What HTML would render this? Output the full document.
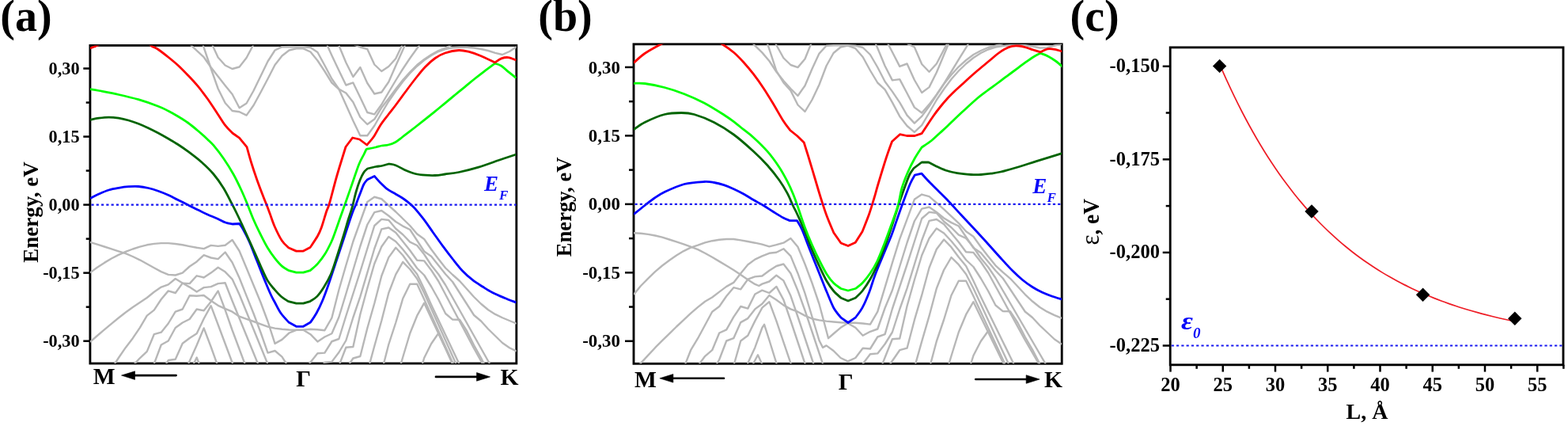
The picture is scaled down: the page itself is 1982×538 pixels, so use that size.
<!DOCTYPE html>
<html lang="en">
<head>
<meta charset="utf-8">
<title>Band structure figure</title>
<style>
html,body{margin:0;padding:0;background:#fff;}
body{width:1982px;height:538px;overflow:hidden;}
svg{display:block;}
text{font-family:"Liberation Serif", "DejaVu Serif", serif;font-weight:bold;fill:#000;}
.pl{font-size:56px;}
.ax{font-size:27px;}
.kl{font-size:29.5px;}
.bl{fill:#0808f8;font-style:italic;}
</style>
</head>
<body>
<svg width="1982" height="538" viewBox="0 0 1982 538">
<rect x="0" y="0" width="1982" height="538" fill="#fff"/>
<g id="panel-a">
<clipPath id="clip-a"><rect x="113.9" y="57.4" width="538.9" height="401.6"/></clipPath>
<rect x="113.9" y="57.4" width="538.9" height="401.6" fill="#fff" stroke="#000" stroke-width="2.85"/>
<line x1="105.3" x2="113.9" y1="86.5" y2="86.5" stroke="#000" stroke-width="2.5"/>
<line x1="105.3" x2="113.9" y1="172.55" y2="172.55" stroke="#000" stroke-width="2.5"/>
<line x1="105.3" x2="113.9" y1="258.6" y2="258.6" stroke="#000" stroke-width="2.5"/>
<line x1="105.3" x2="113.9" y1="344.65" y2="344.65" stroke="#000" stroke-width="2.5"/>
<line x1="105.3" x2="113.9" y1="430.7" y2="430.7" stroke="#000" stroke-width="2.5"/>
<line x1="108.7" x2="113.9" y1="129.53" y2="129.53" stroke="#000" stroke-width="2.5"/>
<line x1="108.7" x2="113.9" y1="215.58" y2="215.58" stroke="#000" stroke-width="2.5"/>
<line x1="108.7" x2="113.9" y1="301.62" y2="301.62" stroke="#000" stroke-width="2.5"/>
<line x1="108.7" x2="113.9" y1="387.68" y2="387.68" stroke="#000" stroke-width="2.5"/>
<g clip-path="url(#clip-a)">
<path d="M266.64 53 L275.63 72.5 L284.62 82.5 L293.6 87 L302.59 84.5 L311.57 73 L320.55 56" fill="none" stroke="#b7b7b7" stroke-width="2.4" stroke-linejoin="round" />
<path d="M239.69 55.4 L248.67 63.8 L257.66 72.2 L266.64 85 L275.63 96.5 L284.62 108 L293.6 119 L302.59 136.25 L311.57 130.5 L320.55 114.5 L329.54 96 L338.52 77.5 L347.51 63.5 L356.5 59.2 L365.48 59 L374.47 59.3 L383.45 59.3 L392.43 60 L401.42 66 L410.4 82.5 L419.39 99.5 L428.38 112.5 L437.36 117.5 L446.35 129 L455.33 148 L464.31 157 L473.3 150.6 L482.28 136 L491.27 124.5 L500.25 112.5 L509.24 101 L518.23 91 L527.21 82 L536.19 75 L545.18 69 L554.16 64 L563.15 60.5 L572.13 56" fill="none" stroke="#b7b7b7" stroke-width="2.4" stroke-linejoin="round" />
<path d="M248.67 35 L257.66 60 L266.64 86.5 L275.63 112 L284.62 130 L293.6 140 L302.59 141.25 L311.57 145.6 L320.55 133 L329.54 116.5 L338.52 99.5 L347.51 82 L356.5 70.5 L365.48 63.5 L374.47 61.4 L383.45 61.4 L392.43 65.5 L401.42 76.5 L410.4 90 L419.39 104.5 L428.38 112.5 L437.36 132.5 L446.35 152.5 L455.33 171.25 L464.31 171.25 L473.3 158.75 L482.28 143 L491.27 128 L500.25 115 L509.24 103 L518.23 92.5 L527.21 83.5 L536.19 76 L545.18 70 L554.16 65 L563.15 62 L572.13 60.3 L581.12 59.7 L590.11 59.8 L599.09 60.5 L608.07 62 L617.06 64 L626.04 66.8 L635.03 69 L644.01 65 L653 59" fill="none" stroke="#b7b7b7" stroke-width="2.4" stroke-linejoin="round" />
<path d="M410.4 50 L419.39 70 L428.38 89 L437.36 107.5 L446.35 104.4 L455.33 123 L464.31 142 L473.3 144.4 L482.28 132 L491.27 116.5 L500.25 101.5 L509.24 87 L518.23 73.5 L527.21 61 L536.19 49" fill="none" stroke="#b7b7b7" stroke-width="2.4" stroke-linejoin="round" />
<path d="M428.38 57.5 L437.36 79 L446.35 97 L455.33 85 L464.31 105 L473.3 118.5 L482.28 116.5 L491.27 103.5 L500.25 83 L509.24 63 L518.23 43" fill="none" stroke="#b7b7b7" stroke-width="2.4" stroke-linejoin="round" />
<path d="M446.35 56 L455.33 59.5 L464.31 62 L473.3 81.5 L482.28 90 L491.27 84 L500.25 74 L509.24 55" fill="none" stroke="#b7b7b7" stroke-width="2.4" stroke-linejoin="round" />
<path d="M113.9 305.8 L122.89 308.6 L131.87 311.5 L140.86 314.4 L149.84 317.3 L158.82 320.2 L167.81 324 L176.8 328.3 L185.78 333.3 L194.76 338.3 L203.75 343.1 L212.74 346.9 L221.72 347.5 L230.7 344.6 L239.69 336.5 L248.67 330.4 L257.66 322.2 L266.64 325.5 L275.63 327.1 L284.62 318.5 L293.6 331.5 L302.59 351 L311.57 373.6 L320.55 396 L329.54 420 L338.52 445.6 L347.51 443 L356.5 450.6 L365.48 465" fill="none" stroke="#b7b7b7" stroke-width="2.4" stroke-linejoin="round" />
<path d="M113.9 344.4 L122.89 337.8 L131.87 331.9 L140.86 326.5 L149.84 321.9 L158.82 317.9 L167.81 314.5 L176.8 311.6 L185.78 309.3 L194.76 307.9 L203.75 307.1 L212.74 307.1 L221.72 308 L230.7 309.3 L239.69 311.1 L248.67 312.8 L257.66 314.1 L266.64 309.9 L275.63 310.9 L284.62 309.7 L293.6 303 L302.59 317 L311.57 338.5 L320.55 360.2 L329.54 382 L338.52 406 L347.51 433.9 L356.5 428.9 L365.48 420.5 L374.47 416.8 L383.45 416.8 L392.43 422.2 L401.42 431.4 L410.4 425.5 L419.39 421.25 L428.38 400.5 L437.36 371 L446.35 341 L455.33 311 L464.31 283.75 L473.3 268.1 L482.28 266 L491.27 272.5 L500.25 280 L509.24 285.6 L518.23 290 L527.21 303.75 L536.19 317.5 L545.18 323.75 L554.16 335 L563.15 346.25 L572.13 356 L581.12 370 L590.11 384 L599.09 398 L608.07 405.5 L617.06 415.5 L626.04 424.25 L635.03 433 L644.01 439.25 L653 443.6" fill="none" stroke="#b7b7b7" stroke-width="2.4" stroke-linejoin="round" />
<path d="M113.9 431.8 L122.89 424 L131.87 416.3 L140.86 408.8 L149.84 401.5 L158.82 394.5 L167.81 388 L176.8 382 L185.78 376 L194.76 368.8 L203.75 362.6 L212.74 359.4 L221.72 352 L230.7 357.5 L239.69 362.6 L248.67 368.5 L257.66 363.1 L266.64 362.1 L275.63 358.1 L284.62 357.2 L293.6 380 L302.59 402 L311.57 424 L320.55 446 L329.54 468" fill="none" stroke="#b7b7b7" stroke-width="2.4" stroke-linejoin="round" />
<path d="M140.86 466 L149.84 452 L158.82 438.9 L167.81 427.2 L176.8 413.8 L185.78 398.6 L194.76 391.6 L203.75 378 L212.74 367.4 L221.72 370 L230.7 357.6 L239.69 358.1 L248.67 348.3 L257.66 350.5 L266.64 344.6 L275.63 337.7 L284.62 343.3 L293.6 352.6 L302.59 372 L311.57 394 L320.55 416 L329.54 438 L338.52 460" fill="none" stroke="#b7b7b7" stroke-width="2.4" stroke-linejoin="round" />
<path d="M167.81 462 L176.8 452.3 L185.78 443.9 L194.76 422.2 L203.75 419.7 L212.74 408.5 L221.72 393.7 L230.7 390.5 L239.69 373.2 L248.67 373.8 L257.66 373 L266.64 379.7 L275.63 385.8 L284.62 389.8 L293.6 393.7 L302.59 399.7 L311.57 402.9 L320.55 406 L329.54 409.3 L338.52 412.7 L347.51 414.6 L356.5 415.8 L365.48 416.5 L374.47 416.8 L383.45 416.5 L392.43 415.8 L401.42 416.3 L410.4 417.2 L419.39 401.5 L428.38 366 L437.36 335 L446.35 305 L455.33 280 L464.31 255 L473.3 248.75 L482.28 251.25 L491.27 259.4 L500.25 267.5 L509.24 276.25 L518.23 285 L527.21 295.5 L536.19 302 L545.18 315 L554.16 327 L563.15 338.5 L572.13 347 L581.12 355 L590.11 365 L599.09 375 L608.07 383.75 L617.06 391.25 L626.04 396.9 L635.03 401.25 L644.01 405 L653 408.75" fill="none" stroke="#b7b7b7" stroke-width="2.4" stroke-linejoin="round" />
<path d="M194.76 459.5 L203.75 435.5 L212.74 430.5 L221.72 414 L230.7 407.5 L239.69 403 L248.67 390.5 L257.66 392.3 L266.64 381 L275.63 367.4 L284.62 391.3 L293.6 417 L302.59 441 L311.57 465" fill="none" stroke="#b7b7b7" stroke-width="2.4" stroke-linejoin="round" />
<path d="M203.75 470 L212.74 455 L221.72 453.7 L230.7 433.7 L239.69 427 L248.67 421.2 L257.66 402.5 L266.64 386.2 L275.63 410 L284.62 434 L293.6 458 L302.59 482" fill="none" stroke="#b7b7b7" stroke-width="2.4" stroke-linejoin="round" />
<path d="M230.7 476 L239.69 456 L248.67 436 L257.66 414.4 L266.64 438 L275.63 463" fill="none" stroke="#b7b7b7" stroke-width="2.4" stroke-linejoin="round" />
<path d="M239.69 470 L248.67 451.5 L257.66 475" fill="none" stroke="#b7b7b7" stroke-width="2.4" stroke-linejoin="round" />
<path d="M383.45 470 L392.43 457.5 L401.42 446.25 L410.4 445.6 L419.39 431.25 L428.38 428 L437.36 399 L446.35 371 L455.33 343 L464.31 314 L473.3 285 L482.28 276.9 L491.27 278 L500.25 288.75 L509.24 296.25 L518.23 305.6 L527.21 310 L536.19 321.25 L545.18 335 L554.16 346.25 L563.15 360 L572.13 376 L581.12 392 L590.11 408 L599.09 424 L608.07 440 L617.06 456 L626.04 472" fill="none" stroke="#b7b7b7" stroke-width="2.4" stroke-linejoin="round" />
<path d="M401.42 470 L410.4 457.8 L419.39 456.9 L428.38 445 L437.36 430 L446.35 401 L455.33 374.6 L464.31 344.4 L473.3 314 L482.28 289.4 L491.27 287.5 L500.25 293.75 L509.24 305 L518.23 316.25 L527.21 328.75 L536.19 329.4 L545.18 341.25 L554.16 355 L563.15 372 L572.13 389 L581.12 406 L590.11 423 L599.09 440 L608.07 456 L617.06 472" fill="none" stroke="#b7b7b7" stroke-width="2.4" stroke-linejoin="round" />
<path d="M428.38 462 L437.36 438.75 L446.35 438 L455.33 397 L464.31 364 L473.3 333 L482.28 311.5 L491.27 298.9 L500.25 305 L509.24 315 L518.23 326.25 L527.21 338.75 L536.19 347.5 L545.18 362 L554.16 378 L563.15 396 L572.13 403.6 L581.12 403.8 L590.11 418 L599.09 436 L608.07 452 L617.06 470" fill="none" stroke="#b7b7b7" stroke-width="2.4" stroke-linejoin="round" />
<path d="M437.36 466 L446.35 452.5 L455.33 450 L464.31 414.5 L473.3 383 L482.28 348.5 L491.27 325.1 L500.25 312.8 L509.24 322.5 L518.23 335 L527.21 346.25 L536.19 365 L545.18 385 L554.16 404 L563.15 423 L572.13 442 L581.12 461" fill="none" stroke="#b7b7b7" stroke-width="2.4" stroke-linejoin="round" />
<path d="M464.31 470 L473.3 437 L482.28 405 L491.27 370 L500.25 346.6 L509.24 330.8 L518.23 340 L527.21 352 L536.19 370 L545.18 390 L554.16 410 L563.15 430 L572.13 450 L581.12 470" fill="none" stroke="#b7b7b7" stroke-width="2.4" stroke-linejoin="round" />
<path d="M482.28 470 L491.27 435 L500.25 407.5 L509.24 377 L518.23 358.7 L527.21 358.7 L536.19 378 L545.18 398 L554.16 418 L563.15 438 L572.13 458 L581.12 478" fill="none" stroke="#b7b7b7" stroke-width="2.4" stroke-linejoin="round" />
<path d="M500.25 482 L509.24 451 L518.23 421 L527.21 398.7 L536.19 382.7 L545.18 402 L554.16 421 L563.15 440 L572.13 459 L581.12 478" fill="none" stroke="#b7b7b7" stroke-width="2.4" stroke-linejoin="round" />
<path d="M527.21 482 L536.19 452 L545.18 434 L554.16 421 L563.15 440 L572.13 460" fill="none" stroke="#b7b7b7" stroke-width="2.4" stroke-linejoin="round" />
<path d="M114 250.5 C115.83 249.58 121.08 246.75 125 245 C128.92 243.25 133.33 241.28 137.5 240 C141.67 238.72 145.83 238.02 150 237.3 C154.17 236.58 158.33 236 162.5 235.7 C166.67 235.4 170.83 235.2 175 235.5 C179.17 235.8 183.33 236.55 187.5 237.5 C191.67 238.45 195.83 239.75 200 241.2 C204.17 242.65 208.33 244.32 212.5 246.2 C216.67 248.08 220.83 250.42 225 252.5 C229.17 254.58 233.33 256.62 237.5 258.7 C241.67 260.78 245.83 262.95 250 265 C254.17 267.05 258.33 269.13 262.5 271 C266.67 272.87 271.25 274.53 275 276.2 C278.75 277.87 281.88 279.87 285 281 C288.12 282.13 292.29 282.67 293.75 283 L302.5 282.5 C303.33 283.75 305.42 286.25 307.5 290 C309.58 293.75 312.08 298.33 315 305 C317.92 311.67 321.67 321.67 325 330 C328.33 338.33 332.08 347.92 335 355 C337.92 362.08 340.42 368 342.5 372.5 C344.58 377 345.42 378.17 347.5 382 C349.58 385.83 352.08 391.33 355 395.5 C357.92 399.67 363.33 405.08 365 407 L374.5 412.3 L383.4 412.3 L392.5 407 C393.75 405.08 397.5 400 400 395.5 C402.5 391 405 385.92 407.5 380 C410 374.08 412.08 368.33 415 360 C417.92 351.67 421.67 340 425 330 C428.33 320 431.67 310 435 300 C438.33 290 442.5 277 445 270 C447.5 263 448.33 262.17 450 258 C451.67 253.83 453.33 249.25 455 245 C456.67 240.75 458.42 235.55 460 232.5 C461.58 229.45 463.75 227.67 464.5 226.7 L473.25 222.5 C474.38 223.75 477.21 227.22 480 230 C482.79 232.78 486.67 236.7 490 239.2 C493.33 241.7 496.67 243.03 500 245 C503.33 246.97 506.25 248.3 510 251 C513.75 253.7 518.33 257 522.5 261.2 C526.67 265.4 530.83 270.78 535 276.2 C539.17 281.62 543.33 287.87 547.5 293.7 C551.67 299.53 555.83 305.57 560 311.2 C564.17 316.83 568.33 322.28 572.5 327.5 C576.67 332.72 580.83 338.13 585 342.5 C589.17 346.87 593.33 350.45 597.5 353.7 C601.67 356.95 605.83 359.37 610 362 C614.17 364.63 617.92 367.13 622.5 369.5 C627.08 371.87 632.5 374.12 637.5 376.2 C642.5 378.28 650 381.03 652.5 382" fill="none" stroke="#0000ff" stroke-width="2.8" stroke-linejoin="round" />
<path d="M114 151.3 C115.83 150.95 121.08 149.73 125 149.2 C128.92 148.67 133.33 148.1 137.5 148.1 C141.67 148.1 145.83 148.55 150 149.2 C154.17 149.85 158.33 150.83 162.5 152 C166.67 153.17 170.83 154.58 175 156.2 C179.17 157.82 183.33 159.73 187.5 161.7 C191.67 163.67 195.83 165.78 200 168 C204.17 170.22 208.33 172.58 212.5 175 C216.67 177.42 220.83 179.8 225 182.5 C229.17 185.2 232.5 187.45 237.5 191.2 C242.5 194.95 249.58 200.2 255 205 C260.42 209.8 265.42 214.58 270 220 C274.58 225.42 278.75 231.47 282.5 237.5 C286.25 243.53 289.58 250.62 292.5 256.2 C295.42 261.78 297.5 265.87 300 271 C302.5 276.13 304.58 280.67 307.5 287 C310.42 293.33 313.83 300.83 317.5 309 C321.17 317.17 326.04 328.43 329.5 336 C332.96 343.57 335.33 349.47 338.25 354.4 C341.17 359.33 344.08 362.22 347 365.6 C349.92 368.98 352.83 372.2 355.75 374.7 C358.67 377.2 363.04 379.62 364.5 380.6 L374.5 383.2 L383.4 383.2 L392 380.6 C393.46 379.57 397.83 377.42 400.75 374.4 C403.67 371.38 406.58 367.2 409.5 362.5 C412.42 357.8 415.57 352.45 418.25 346.2 C420.93 339.95 422.86 333.37 425.6 325 C428.34 316.63 432.3 303.83 434.7 296 C437.1 288.17 438.28 283.58 440 278 C441.72 272.42 443.33 268.42 445 262.5 C446.67 256.58 448.33 248.33 450 242.5 C451.67 236.67 453.33 231.67 455 227.5 C456.67 223.33 458.42 219.92 460 217.5 C461.58 215.08 463.75 213.75 464.5 213 C466.25 212.58 472 211.08 475 210.5 C478 209.92 479.79 210.08 482.5 209.5 C485.21 208.92 489.79 207.42 491.25 207 C492.71 207.28 496.46 207.37 500 208.7 C503.54 210.03 508.33 213.2 512.5 215 C516.67 216.8 520.83 218.47 525 219.5 C529.17 220.53 533.33 220.87 537.5 221.2 C541.67 221.53 545.83 221.7 550 221.5 C554.17 221.3 557.5 220.67 562.5 220 C567.5 219.33 572.92 218.97 580 217.5 C587.08 216.03 596.67 213.7 605 211.2 C613.33 208.7 622.08 205.2 630 202.5 C637.92 199.8 648.75 196.25 652.5 195" fill="none" stroke="#006400" stroke-width="2.8" stroke-linejoin="round" />
<path d="M114 112.5 C115.83 112.83 119 113.33 125 114.5 C131 115.67 141.67 117.63 150 119.5 C158.33 121.37 166.67 123.25 175 125.7 C183.33 128.15 193.75 131.82 200 134.2 C206.25 136.58 208.33 137.87 212.5 140 C216.67 142.13 220.83 144.5 225 147 C229.17 149.5 233.33 152 237.5 155 C241.67 158 245.83 161.47 250 165 C254.17 168.53 259.17 173.08 262.5 176.2 C265.83 179.32 266.67 179.73 270 183.7 C273.33 187.67 278.33 193.95 282.5 200 C286.67 206.05 291.25 213.33 295 220 C298.75 226.67 302.08 233.75 305 240 C307.92 246.25 309.95 251.33 312.5 257.5 C315.05 263.67 317.5 270.58 320.3 277 C323.1 283.42 326.3 290 329.3 296 C332.3 302 335.28 307.98 338.3 313 C341.32 318.02 344.38 322.25 347.4 326.1 C350.42 329.95 353.47 333.5 356.4 336.1 C359.33 338.7 363.57 340.77 365 341.7 L374.5 344.2 L383.4 344.2 L392 341.7 C393.58 340.27 398.4 336.53 401.5 333.1 C404.6 329.67 407.75 325.62 410.6 321.1 C413.45 316.58 416.6 310.18 418.6 306 C420.6 301.82 420.7 301.17 422.6 296 C424.5 290.83 427.73 281.42 430 275 C432.27 268.58 433.75 264.58 436.25 257.5 C438.75 250.42 442.08 240.83 445 232.5 C447.92 224.17 451.25 213.75 453.75 207.5 C456.25 201.25 458.46 198.17 460 195 C461.54 191.83 462.5 189.58 463 188.5 C465 188.08 471.75 186.75 475 186 C478.25 185.25 479.9 184.5 482.5 184 C485.1 183.5 487.68 183.77 490.6 183 C493.52 182.23 496.98 181.07 500 179.4 C503.02 177.73 504.58 176.15 508.75 173 C512.92 169.85 520.21 164.22 525 160.5 C529.79 156.78 533.33 154 537.5 150.7 C541.67 147.4 545.83 144.1 550 140.7 C554.17 137.3 558.33 133.75 562.5 130.3 C566.67 126.85 570.83 123.42 575 120 C579.17 116.58 583.33 113.22 587.5 109.8 C591.67 106.38 595.83 102.83 600 99.5 C604.17 96.17 608.23 93.05 612.5 89.8 C616.77 86.55 623.42 81.63 625.6 80 C626.96 80.53 630.93 81.42 633.75 83.2 C636.57 84.98 639.38 88.15 642.5 90.7 C645.62 93.25 650.83 97.2 652.5 98.5" fill="none" stroke="#00ff00" stroke-width="2.8" stroke-linejoin="round" />
<path d="M114 61 C114.83 60.67 117.33 59.67 119 59 C120.67 58.33 122.17 57.67 124 57 C125.83 56.33 124 56.17 130 55 C136 53.83 150.67 50 160 50 C169.33 50 180.58 53.55 186 55 C191.42 56.45 190.17 57.45 192.5 58.7 C194.83 59.95 196.67 60.28 200 62.5 C203.33 64.72 208.33 68.67 212.5 72 C216.67 75.33 220.83 78.67 225 82.5 C229.17 86.33 233.33 90.63 237.5 95 C241.67 99.37 245.83 103.7 250 108.7 C254.17 113.7 258.33 119.17 262.5 125 C266.67 130.83 271.25 138.08 275 143.7 C278.75 149.32 281.88 154.65 285 158.7 C288.12 162.75 292.29 166.45 293.75 168 L302.5 174.2 L312 185.7 C312.92 188.92 315.33 198.03 317.5 205 C319.67 211.97 322.5 220.42 325 227.5 C327.5 234.58 330.42 242.08 332.5 247.5 C334.58 252.92 336.04 256.25 337.5 260 C338.96 263.75 339.62 265.63 341.25 270 C342.88 274.37 344.73 280.53 347.25 286.2 C349.77 291.87 353.44 299.53 356.4 304 C359.36 308.47 363.57 311.5 365 313 L374.5 317.1 L383.4 317.1 L392 312.6 C393.58 310.17 399.12 302.18 401.5 298 C403.88 293.82 404.42 292.58 406.25 287.5 C408.08 282.42 410.83 272.5 412.5 267.5 C414.17 262.5 414.17 264.58 416.25 257.5 C418.33 250.42 422.29 234.58 425 225 C427.71 215.42 430.5 206.58 432.5 200 C434.5 193.42 436.25 187.92 437 185.5 L445.6 174 L454.4 176 L463.75 183 C465.21 181.25 469.58 176.75 472.5 172.5 C475.42 168.25 478.17 162.17 481.25 157.5 C484.33 152.83 487.88 148.58 491 144.5 C494.12 140.42 496.42 137.75 500 133 C503.58 128.25 508.33 121.58 512.5 116 C516.67 110.42 520.83 104.75 525 99.5 C529.17 94.25 533.33 88.83 537.5 84.5 C541.67 80.17 545.83 76.42 550 73.5 C554.17 70.58 557.5 68.67 562.5 67 C567.5 65.33 574.79 63.72 580 63.5 C585.21 63.28 589.38 64.62 593.75 65.7 C598.12 66.78 600.94 67.8 606.25 70 C611.56 72.2 622.38 77.42 625.6 78.9 C626.96 78.07 630.93 74.95 633.75 73.9 C636.57 72.85 639.38 72.25 642.5 72.6 C645.62 72.95 650.83 75.43 652.5 76" fill="none" stroke="#ff0000" stroke-width="2.8" stroke-linejoin="round" />
<line x1="115.4" x2="652.8" y1="258.6" y2="258.6" stroke="#1818f0" stroke-width="2.1" stroke-dasharray="3.2 3.09"/>
</g>
<text x="100.6" y="93.9" text-anchor="end" font-size="22.3">0,30</text>
<text x="100.6" y="179.95" text-anchor="end" font-size="22.3">0,15</text>
<text x="100.6" y="266" text-anchor="end" font-size="22.3">0,00</text>
<text x="100.6" y="352.05" text-anchor="end" font-size="22.3">-0,15</text>
<text x="100.6" y="438.1" text-anchor="end" font-size="22.3">-0,30</text>
<text x="0.3" y="39.4" class="pl">(a)</text><text transform="translate(47.7,268) rotate(-90)" text-anchor="middle" class="ax">Energy, eV</text><line x1="222.6" x2="167.04" y1="474.1" y2="474.1" stroke="#000" stroke-width="2.6" stroke-linecap="round"/><path d="M153.5 474.1 L170.5 468.8 L170.5 479.4 Z" fill="#000" stroke="#000" stroke-width="0.6" stroke-linejoin="round"/><line x1="550.9" x2="605.96" y1="475.9" y2="475.9" stroke="#000" stroke-width="2.6" stroke-linecap="round"/><path d="M619.5 475.9 L602.5 470.6 L602.5 481.2 Z" fill="#000" stroke="#000" stroke-width="0.6" stroke-linejoin="round"/><text x="117.8" y="485.2" class="kl">M</text><text x="374.2" y="488.4" class="kl">Γ</text><text x="632.5" y="485.5" class="kl">K</text><text x="612" y="241" class="bl" font-size="27">E<tspan dy="11.2" dx="1" font-size="17">F</tspan></text>
</g>
<g id="panel-b">
<clipPath id="clip-b"><rect x="801" y="55.8" width="541.2" height="403.5"/></clipPath>
<rect x="801" y="55.8" width="541.2" height="403.5" fill="#fff" stroke="#000" stroke-width="2.85"/>
<line x1="790" x2="801" y1="84.91" y2="84.91" stroke="#000" stroke-width="2.5"/>
<line x1="790" x2="801" y1="171.38" y2="171.38" stroke="#000" stroke-width="2.5"/>
<line x1="790" x2="801" y1="257.85" y2="257.85" stroke="#000" stroke-width="2.5"/>
<line x1="790" x2="801" y1="344.32" y2="344.32" stroke="#000" stroke-width="2.5"/>
<line x1="790" x2="801" y1="430.79" y2="430.79" stroke="#000" stroke-width="2.5"/>
<line x1="795" x2="801" y1="128.15" y2="128.15" stroke="#000" stroke-width="2.5"/>
<line x1="795" x2="801" y1="214.62" y2="214.62" stroke="#000" stroke-width="2.5"/>
<line x1="795" x2="801" y1="301.09" y2="301.09" stroke="#000" stroke-width="2.5"/>
<line x1="795" x2="801" y1="387.56" y2="387.56" stroke="#000" stroke-width="2.5"/>
<g clip-path="url(#clip-b)">
<path d="M972.38 40 L981.4 57 L990.42 73.25 L999.44 82 L1008.46 85.1 L1017.48 74.5 L1026.5 52" fill="none" stroke="#b7b7b7" stroke-width="2.4" stroke-linejoin="round" />
<path d="M945.32 48 L954.34 57.6 L963.36 66.4 L972.38 77 L981.4 90.75 L990.42 102 L999.44 112 L1008.46 121 L1017.48 108.25 L1026.5 87 L1035.52 67.6 L1044.54 57.8 L1053.56 57.3 L1062.58 57.3 L1071.6 57.3 L1081.32 57.6 L1090.64 60 L1099.96 69 L1109.28 85 L1118.6 103 L1127.92 115.6 L1137.24 129.4 L1146.56 145.6 L1155.88 155.6 L1165.2 146.9 L1174.52 134.4 L1183.84 120 L1193.16 106 L1202.48 94.5 L1211.8 84.3 L1221.12 76 L1230.44 69 L1239.76 64 L1249.08 60 L1258.4 57.6 L1267.72 55" fill="none" stroke="#b7b7b7" stroke-width="2.4" stroke-linejoin="round" />
<path d="M963.36 36 L972.38 62 L981.4 89.5 L990.42 104.5 L999.44 114.5 L1008.46 132.5 L1017.48 141 L1026.5 126 L1035.52 107 L1044.54 83.25 L1053.56 67 L1062.58 59.5 L1071.6 57.6 L1081.32 61.2 L1090.64 72 L1099.96 89 L1109.28 104.5 L1118.6 113.1 L1127.92 129.4 L1137.24 146.9 L1146.56 159 L1155.88 166.9 L1165.2 158.1 L1174.52 142.5 L1183.84 126.25 L1193.16 112.5 L1202.48 100 L1211.8 89.5 L1221.12 80.5 L1230.44 73 L1239.76 67 L1249.08 62.5 L1258.4 59.5 L1267.72 58 L1277.04 57.2 L1286.36 57 L1295.68 57.3 L1305 58.5 L1314.32 60.5 L1323.64 60.2 L1332.96 57.5 L1342.28 55.5" fill="none" stroke="#b7b7b7" stroke-width="2.4" stroke-linejoin="round" />
<path d="M1099.96 40 L1109.28 60.75 L1118.6 83.25 L1127.92 101.4 L1137.24 100.1 L1146.56 117.8 L1155.88 135.6 L1165.2 142.5 L1174.52 131.9 L1183.84 119.5 L1193.16 105.75 L1202.48 90.5 L1211.8 75.1 L1221.12 60.1 L1230.44 44" fill="none" stroke="#b7b7b7" stroke-width="2.4" stroke-linejoin="round" />
<path d="M1118.6 48 L1127.92 65.75 L1137.24 83.9 L1146.56 80.5 L1155.88 101 L1165.2 117 L1174.52 110.1 L1183.84 91.5 L1193.16 69.3 L1202.48 47" fill="none" stroke="#b7b7b7" stroke-width="2.4" stroke-linejoin="round" />
<path d="M1146.56 55 L1155.88 59.5 L1165.2 81 L1174.52 90.75 L1183.84 80.5 L1193.16 62.6 L1202.48 45" fill="none" stroke="#b7b7b7" stroke-width="2.4" stroke-linejoin="round" />
<path d="M801 294.2 L810.02 294.7 L819.04 295.9 L828.06 297.5 L837.08 299.7 L846.1 302.5 L855.12 305.4 L864.14 308.4 L873.16 311.7 L882.18 315.1 L891.2 319.8 L900.22 324.8 L909.24 330.1 L918.26 335.5 L927.28 341 L936.3 346.9 L945.32 353.2 L954.34 358.9 L959.3 361 L963.36 358.6 L972.38 355.5 L981.4 347.7 L990.42 354.4 L999.44 373.6 L1008.46 400 L1017.48 427 L1026.5 454 L1035.52 481" fill="none" stroke="#b7b7b7" stroke-width="2.4" stroke-linejoin="round" />
<path d="M801 372 L810.02 361 L819.04 351.9 L828.06 343.2 L837.08 335.5 L846.1 328.8 L855.12 322.6 L864.14 317.1 L873.16 312.6 L882.18 309.7 L891.2 306.4 L900.22 304.2 L909.24 302.7 L918.26 302 L927.28 302 L936.3 303.4 L945.32 305 L954.34 306.7 L963.36 308.7 L972.38 311.4 L981.4 309.2 L990.42 306.7 L999.44 300.9 L1008.46 311.7 L1017.48 333.5 L1026.5 357.5 L1035.52 384 L1047.07 427.2 L1053.56 421.5 L1062.58 413.8 L1071.6 408.2 L1081.32 413.8 L1090.64 423.8 L1099.96 418.8 L1109.28 415.5 L1118.6 389 L1127.92 366.5 L1137.24 336.5 L1146.56 306.5 L1155.88 279.25 L1165.2 263.6 L1174.52 261.5 L1183.84 268 L1193.16 275.5 L1202.48 281.1 L1211.8 285.5 L1221.12 299.25 L1230.44 313 L1239.76 319.25 L1249.08 330.5 L1258.4 341.75 L1267.72 351.5 L1277.04 365.5 L1286.36 379.5 L1295.68 393.5 L1305 401 L1314.32 411 L1323.64 419.75 L1332.96 428.5 L1342.28 434.75" fill="none" stroke="#b7b7b7" stroke-width="2.4" stroke-linejoin="round" />
<path d="M801 468 L810.02 458.6 L819.04 448.9 L828.06 439.2 L837.08 430.2 L846.1 421.3 L855.12 412.5 L864.14 404.1 L873.16 395.7 L882.18 387.9 L891.2 380.7 L900.22 375.5 L909.24 368.6 L918.26 361.9 L927.28 356.9 L936.3 345.2 L945.32 334.3 L954.34 327.6 L963.36 323.4 L972.38 319.8 L981.4 318.8 L990.42 314.2 L999.44 323.4 L1008.46 345.2 L1017.48 370.3 L1026.5 400 L1035.52 430 L1040.03 438.9 L1044.54 436.4 L1053.56 443 L1062.58 452 L1071.6 456.4 L1081.32 452 L1090.64 439.7 L1099.96 440.5 L1109.28 425.5 L1118.6 422.2 L1127.92 390 L1137.24 362 L1146.56 334 L1155.88 305 L1165.2 276 L1174.52 267.9 L1183.84 269 L1193.16 279.75 L1202.48 287.25 L1211.8 296.6 L1221.12 301 L1230.44 312.25 L1239.76 326 L1249.08 337.25 L1258.4 351 L1267.72 367 L1277.04 383 L1286.36 399 L1295.68 415 L1305 431 L1314.32 447 L1323.64 463 L1332.96 479" fill="none" stroke="#b7b7b7" stroke-width="2.4" stroke-linejoin="round" />
<path d="M864.14 465 L873.16 442.2 L882.18 427.2 L891.2 410.5 L900.22 393.7 L909.24 387 L918.26 374 L927.28 363.2 L936.3 365.3 L945.32 352.7 L954.34 349.4 L963.36 348.5 L972.38 341.8 L981.4 336 L990.42 333.5 L999.44 345.2 L1008.46 367 L1017.48 392 L1026.5 419 L1035.52 446 L1044.54 473" fill="none" stroke="#b7b7b7" stroke-width="2.4" stroke-linejoin="round" />
<path d="M882.18 462 L891.2 449.8 L900.22 442.2 L909.24 420.5 L918.26 416.3 L927.28 400.4 L936.3 387 L945.32 389.6 L954.34 371.5 L963.36 366.6 L972.38 370 L981.4 361.9 L990.42 378.6 L999.44 405 L1008.46 432 L1017.48 459 L1026.5 486" fill="none" stroke="#b7b7b7" stroke-width="2.4" stroke-linejoin="round" />
<path d="M900.22 470 L909.24 454 L918.26 430.5 L927.28 427.2 L936.3 407.1 L945.32 402.1 L954.34 390.4 L963.36 383.7 L972.38 373 L981.4 378.7 L990.42 385.4 L999.44 390.4 L1008.46 393.7 L1017.48 398.7 L1026.5 402.5 L1035.52 404.4 L1044.54 405.6 L1053.56 406.5 L1062.58 407.3 L1071.6 407.8 L1081.32 407.8 L1090.64 408.5 L1099.96 409.6 L1109.28 393.7 L1118.6 362.8 L1127.92 331.8 L1137.24 301.8 L1146.56 276.8 L1155.88 251.8 L1165.2 245.55 L1174.52 248.05 L1183.84 256.2 L1193.16 264.3 L1202.48 273.05 L1211.8 281.8 L1221.12 292.3 L1230.44 298.8 L1239.76 311.8 L1249.08 323.8 L1258.4 335.3 L1267.72 343.8 L1277.04 351.8 L1286.36 361.8 L1295.68 371.8 L1305 380.55 L1314.32 388.05 L1323.64 393.7 L1332.96 398.05 L1342.28 401.8" fill="none" stroke="#b7b7b7" stroke-width="2.4" stroke-linejoin="round" />
<path d="M927.28 462 L936.3 430.5 L945.32 423.8 L954.34 405.4 L963.36 388.7 L972.38 381.2 L981.4 405.4 L990.42 432.2 L999.44 458.6 L1008.46 485" fill="none" stroke="#b7b7b7" stroke-width="2.4" stroke-linejoin="round" />
<path d="M936.3 480 L945.32 458.6 L954.34 438.9 L963.36 414 L966.07 409.8 L972.38 429.5 L981.4 458.6 L990.42 488" fill="none" stroke="#b7b7b7" stroke-width="2.4" stroke-linejoin="round" />
<path d="M950.73 462 L957.95 448.3 L964.26 462" fill="none" stroke="#b7b7b7" stroke-width="2.4" stroke-linejoin="round" />
<path d="M1081.32 471.7 L1090.64 459.5 L1099.96 447.3 L1109.28 446.4 L1118.6 434.5 L1127.92 419.5 L1137.24 390.5 L1146.56 364.1 L1155.88 333.9 L1165.2 303.5 L1174.52 278.9 L1183.84 277 L1193.16 283.25 L1202.48 294.5 L1211.8 305.75 L1221.12 318.25 L1230.44 318.9 L1239.76 330.75 L1249.08 344.5 L1258.4 361.5 L1267.72 378.5 L1277.04 395.5 L1286.36 412.5 L1295.68 429.5 L1305 445.5 L1314.32 461.5 L1323.64 477.5" fill="none" stroke="#b7b7b7" stroke-width="2.4" stroke-linejoin="round" />
<path d="M1109.28 474.75 L1118.6 451.5 L1127.92 428.25 L1137.24 427.5 L1146.56 386.5 L1155.88 353.5 L1165.2 322.5 L1174.52 301 L1183.84 288.4 L1193.16 294.5 L1202.48 304.5 L1211.8 315.75 L1221.12 328.25 L1230.44 337 L1239.76 351.5 L1249.08 367.5 L1258.4 385.5 L1267.72 393.1 L1277.04 393.3 L1286.36 407.5 L1295.68 425.5 L1305 441.5 L1314.32 459.5 L1323.64 477.5" fill="none" stroke="#b7b7b7" stroke-width="2.4" stroke-linejoin="round" />
<path d="M1118.6 469.2 L1127.92 455.7 L1137.24 442.2 L1146.56 439.7 L1155.88 404.2 L1165.2 372.7 L1174.52 338.2 L1183.84 314.8 L1193.16 302.5 L1202.48 312.2 L1211.8 324.7 L1221.12 335.95 L1230.44 354.7 L1239.76 374.7 L1249.08 393.7 L1258.4 412.7 L1267.72 431.7 L1277.04 450.7 L1286.36 469.7" fill="none" stroke="#b7b7b7" stroke-width="2.4" stroke-linejoin="round" />
<path d="M1146.56 497.2 L1155.88 464.2 L1165.2 431.2 L1174.52 399.2 L1183.84 364.2 L1193.16 340.8 L1202.48 325 L1211.8 334.2 L1221.12 346.2 L1230.44 364.2 L1239.76 384.2 L1249.08 404.2 L1258.4 424.2 L1267.72 444.2 L1277.04 464.2 L1286.36 484.2" fill="none" stroke="#b7b7b7" stroke-width="2.4" stroke-linejoin="round" />
<path d="M1174.52 466 L1183.84 431 L1193.16 403.5 L1202.48 373 L1211.8 354.7 L1221.12 354.7 L1230.44 374 L1239.76 394 L1249.08 414 L1258.4 434 L1267.72 454 L1277.04 474" fill="none" stroke="#b7b7b7" stroke-width="2.4" stroke-linejoin="round" />
<path d="M1193.16 480.5 L1202.48 449.5 L1211.8 419.5 L1221.12 397.2 L1230.44 381.2 L1239.76 400.5 L1249.08 419.5 L1258.4 438.5 L1267.72 457.5 L1277.04 476.5" fill="none" stroke="#b7b7b7" stroke-width="2.4" stroke-linejoin="round" />
<path d="M1221.12 479 L1230.44 449 L1239.76 431 L1249.08 418 L1258.4 437 L1267.72 457 L1277.04 477" fill="none" stroke="#b7b7b7" stroke-width="2.4" stroke-linejoin="round" />
<path d="M801 270.7 C803.33 268.83 810.58 262.95 815 259.5 C819.42 256.05 823.33 252.83 827.5 250 C831.67 247.17 833.75 245.42 840 242.5 C846.25 239.58 856.67 234.67 865 232.5 C873.33 230.33 883.75 229.83 890 229.5 C896.25 229.17 898.33 229.8 902.5 230.5 C906.67 231.2 910.83 232.33 915 233.7 C919.17 235.07 923.33 236.82 927.5 238.7 C931.67 240.58 935.83 242.7 940 245 C944.17 247.3 948.33 250.08 952.5 252.5 C956.67 254.92 960.83 257 965 259.5 C969.17 262 973.33 264.92 977.5 267.5 C981.67 270.08 986.46 273.13 990 275 C993.54 276.87 997.29 278.08 998.75 278.7 L1007.5 278.7 C1008.54 280.58 1011.25 284.37 1013.75 290 C1016.25 295.63 1019.38 304.58 1022.5 312.5 C1025.62 320.42 1029.17 329.17 1032.5 337.5 C1035.83 345.83 1040.42 357.33 1042.5 362.5 C1044.58 367.67 1043.12 364.13 1045 368.5 C1046.88 372.87 1050.75 383.25 1053.75 388.7 C1056.75 394.15 1061.46 399.12 1063 401.2 L1072 407.5 L1081.25 401.2 C1082.71 399.12 1087.08 394.07 1090 388.7 C1092.92 383.33 1096.04 375.97 1098.75 369 C1101.46 362.03 1102.88 355.73 1106.25 346.9 C1109.62 338.07 1115.56 324.32 1119 316 C1122.44 307.68 1124.65 302.83 1126.9 297 C1129.15 291.17 1130.15 287.67 1132.5 281 C1134.85 274.33 1138 265.17 1141 257 C1144 248.83 1147.96 237.97 1150.5 232 C1153.04 226.03 1155.29 223 1156.25 221.2 L1165 219.2 C1166.25 220.58 1169.17 224.03 1172.5 227.5 C1175.83 230.97 1180.83 235.83 1185 240 C1189.17 244.17 1192.5 247.25 1197.5 252.5 C1202.5 257.75 1209.58 265.67 1215 271.5 C1220.42 277.33 1224.58 281.67 1230 287.5 C1235.42 293.33 1241.67 300.08 1247.5 306.5 C1253.33 312.92 1259.58 320.08 1265 326 C1270.42 331.92 1275.42 337.42 1280 342 C1284.58 346.58 1288.33 350.08 1292.5 353.5 C1296.67 356.92 1300.83 359.87 1305 362.5 C1309.17 365.13 1313.33 367.35 1317.5 369.3 C1321.67 371.25 1325.83 372.75 1330 374.2 C1334.17 375.65 1340.42 377.37 1342.5 378" fill="none" stroke="#0000ff" stroke-width="2.8" stroke-linejoin="round" />
<path d="M801 163.7 C803.33 162.17 808.5 157.7 815 154.5 C821.5 151.3 832.29 146.5 840 144.5 C847.71 142.5 855 142.5 861.25 142.5 C867.5 142.5 870.62 142.5 877.5 144.5 C884.38 146.5 894.17 150.25 902.5 154.5 C910.83 158.75 919.17 163.88 927.5 170 C935.83 176.12 945.42 184.75 952.5 191.2 C959.58 197.65 964.58 202.65 970 208.7 C975.42 214.75 980.83 221.67 985 227.5 C989.17 233.33 992.08 238.28 995 243.7 C997.92 249.12 1000.42 255.62 1002.5 260 C1004.58 264.38 1005 264.58 1007.5 270 C1010 275.42 1014.38 285 1017.5 292.5 C1020.62 300 1023.12 307.5 1026.25 315 C1029.38 322.5 1033.12 330.83 1036.25 337.5 C1039.38 344.17 1042.08 350 1045 355 C1047.92 360 1050.75 363.97 1053.75 367.5 C1056.75 371.03 1061.46 374.75 1063 376.2 L1072 380 L1081.25 376.2 C1082.71 374.75 1086.88 371.45 1090 367.5 C1093.12 363.55 1096.88 357.92 1100 352.5 C1103.12 347.08 1105.83 341.47 1108.75 335 C1111.67 328.53 1114.58 321.42 1117.5 313.7 C1120.42 305.98 1123.12 298.07 1126.25 288.7 C1129.38 279.33 1133.12 266.87 1136.25 257.5 C1139.38 248.13 1142.71 238.75 1145 232.5 C1147.29 226.25 1148.33 223.33 1150 220 C1151.67 216.67 1154.17 213.75 1155 212.5 L1165 205 L1173.75 205 C1175.21 205.75 1178.96 207.83 1182.5 209.5 C1186.04 211.17 1190.42 213.47 1195 215 C1199.58 216.53 1204.58 217.78 1210 218.7 C1215.42 219.62 1222.5 220.2 1227.5 220.5 C1232.5 220.8 1235.83 220.72 1240 220.5 C1244.17 220.28 1248.33 219.78 1252.5 219.2 C1256.67 218.62 1259.58 218.28 1265 217 C1270.42 215.72 1277.5 213.72 1285 211.5 C1292.5 209.28 1300.42 206.67 1310 203.7 C1319.58 200.73 1337.08 195.37 1342.5 193.7" fill="none" stroke="#006400" stroke-width="2.8" stroke-linejoin="round" />
<path d="M801 105.3 C803.33 105.33 808.5 104.63 815 105.5 C821.5 106.37 831.67 108.3 840 110.5 C848.33 112.7 856.67 115.45 865 118.7 C873.33 121.95 881.67 125.62 890 130 C898.33 134.38 908.75 141.05 915 145 C921.25 148.95 923.33 150.58 927.5 153.7 C931.67 156.82 935.83 160.37 940 163.7 C944.17 167.03 947.5 169.12 952.5 173.7 C957.5 178.28 964.58 184.95 970 191.2 C975.42 197.45 980.83 204.95 985 211.2 C989.17 217.45 992.08 223.07 995 228.7 C997.92 234.33 1000.21 239.45 1002.5 245 C1004.79 250.55 1006.25 254.92 1008.75 262 C1011.25 269.08 1014.58 279.72 1017.5 287.5 C1020.42 295.28 1023.12 301.62 1026.25 308.7 C1029.38 315.78 1033.12 323.75 1036.25 330 C1039.38 336.25 1042.08 341.62 1045 346.2 C1047.92 350.78 1050.75 354.45 1053.75 357.5 C1056.75 360.55 1061.46 363.33 1063 364.5 L1072 367 L1081.25 364.5 C1082.71 363.33 1086.88 360.75 1090 357.5 C1093.12 354.25 1096.88 349.58 1100 345 C1103.12 340.42 1105.83 336.05 1108.75 330 C1111.67 323.95 1114.58 316.2 1117.5 308.7 C1120.42 301.2 1123.33 293.12 1126.25 285 C1129.17 276.88 1132.71 267.92 1135 260 C1137.29 252.08 1137.92 244.58 1140 237.5 C1142.08 230.42 1144.79 223.75 1147.5 217.5 C1150.21 211.25 1153.33 205.22 1156.25 200 C1159.17 194.78 1163.54 188.5 1165 186.2 C1167.08 184.75 1173.67 180.53 1177.5 177.5 C1181.33 174.47 1184.6 171.08 1188 168 C1191.4 164.92 1194.75 161.95 1197.9 159 C1201.05 156.05 1203.9 153.17 1206.9 150.3 C1209.9 147.43 1211.22 146.1 1215.9 141.8 C1220.58 137.5 1229.65 129.05 1235 124.5 C1240.35 119.95 1243.67 117.75 1248 114.5 C1252.33 111.25 1257.33 107.72 1261 105 C1264.67 102.28 1266.98 100.45 1270 98.2 C1273.02 95.95 1276.08 93.73 1279.1 91.5 C1282.12 89.27 1285.1 87.02 1288.1 84.8 C1291.1 82.58 1294.1 80.33 1297.1 78.2 C1300.1 76.07 1303.1 73.83 1306.1 72 C1309.1 70.17 1313.6 68 1315.1 67.2 C1316.75 67.87 1321.68 69.48 1325 71.2 C1328.32 72.92 1331.88 75.2 1335 77.5 C1338.12 79.8 1342.29 83.75 1343.75 85" fill="none" stroke="#00ff00" stroke-width="2.8" stroke-linejoin="round" />
<path d="M801 79.4 C803.33 77.42 809.17 71.48 815 67.5 C820.83 63.52 830.17 58.58 836 55.5 C841.83 52.42 843.5 50.92 850 49 C856.5 47.08 866.67 44 875 44 C883.33 44 893.75 47.08 900 49 C906.25 50.92 907.92 52.63 912.5 55.5 C917.08 58.37 922.92 62.33 927.5 66.2 C932.08 70.07 935.83 74.12 940 78.7 C944.17 83.28 948.33 88.28 952.5 93.7 C956.67 99.12 960.83 104.95 965 111.2 C969.17 117.45 973.33 124.32 977.5 131.2 C981.67 138.08 986.46 146.95 990 152.5 C993.54 158.05 997.29 162.5 998.75 164.5 L1007.5 171.5 L1016.25 180 C1017.29 183.33 1020.21 192.5 1022.5 200 C1024.79 207.5 1027.5 216.67 1030 225 C1032.5 233.33 1035 242.08 1037.5 250 C1040 257.92 1042.29 265.22 1045 272.5 C1047.71 279.78 1052.29 290.17 1053.75 293.7 L1063 307 L1072 310.5 L1081.25 306.2 L1090 292.5 C1091.46 288.75 1096.25 277.08 1098.75 270 C1101.25 262.92 1103.12 256.25 1105 250 C1106.88 243.75 1107.5 240.83 1110 232.5 C1112.5 224.17 1117.08 208.97 1120 200 C1122.92 191.03 1126.25 182.25 1127.5 178.7 L1137.5 169.7 L1146.25 171.5 L1156.25 171.5 L1165 168.7 C1165.97 167.25 1168.33 163.7 1170.8 160 C1173.27 156.3 1176.78 150.75 1179.8 146.5 C1182.82 142.25 1185.88 138.25 1188.9 134.5 C1191.92 130.75 1194.9 127.25 1197.9 124 C1200.9 120.75 1203.9 117.87 1206.9 115 C1209.9 112.13 1212.9 109.55 1215.9 106.8 C1218.9 104.05 1221.88 101.22 1224.9 98.5 C1227.92 95.78 1230.98 93.08 1234 90.5 C1237.02 87.92 1240 85.5 1243 83 C1246 80.5 1249 78 1252 75.5 C1255 73 1258 70.25 1261 68 C1264 65.75 1266.98 63.62 1270 62 C1273.02 60.38 1276.08 58.97 1279.1 58.3 C1282.12 57.63 1285.1 57.72 1288.1 58 C1291.1 58.28 1294.1 59.17 1297.1 60 C1300.1 60.83 1303.1 62.03 1306.1 63 C1309.1 63.97 1313.6 65.33 1315.1 65.8 C1316.62 65.13 1321.18 62.38 1324.2 61.8 C1327.22 61.22 1330.07 61.75 1333.2 62.3 C1336.33 62.85 1341.37 64.63 1343 65.1" fill="none" stroke="#ff0000" stroke-width="2.8" stroke-linejoin="round" />
<line x1="802.5" x2="1342.2" y1="257.85" y2="257.85" stroke="#1818f0" stroke-width="2.1" stroke-dasharray="3.2 3.09"/>
</g>
<text x="783.9" y="92.51" text-anchor="end" font-size="22.9">0,30</text>
<text x="783.9" y="178.98" text-anchor="end" font-size="22.9">0,15</text>
<text x="783.9" y="265.45" text-anchor="end" font-size="22.9">0,00</text>
<text x="783.9" y="351.92" text-anchor="end" font-size="22.9">-0,15</text>
<text x="783.9" y="438.39" text-anchor="end" font-size="22.9">-0,30</text>
<text x="680.3" y="39.4" class="pl">(b)</text><text transform="translate(722.1,261.4) rotate(-90)" text-anchor="middle" font-size="26.6">Energy, eV</text><line x1="915" x2="847.44" y1="477.8" y2="477.8" stroke="#000" stroke-width="2.6" stroke-linecap="round"/><path d="M833.9 477.8 L850.9 472.5 L850.9 483.1 Z" fill="#000" stroke="#000" stroke-width="0.6" stroke-linejoin="round"/><line x1="1233.2" x2="1300.56" y1="479" y2="479" stroke="#000" stroke-width="2.6" stroke-linecap="round"/><path d="M1314.1 479 L1297.1 473.7 L1297.1 484.3 Z" fill="#000" stroke="#000" stroke-width="0.6" stroke-linejoin="round"/><text x="802" y="489" class="kl">M</text><text x="1059.8" y="492" class="kl">Γ</text><text x="1320" y="489" class="kl">K</text><text x="1305.2" y="244.3" class="bl" font-size="27">E<tspan dy="10.2" dx="0.3" font-size="17">F</tspan></text>
</g>
<g id="panel-c">
<rect x="1479.2" y="59.9" width="496.8" height="400.9" fill="#fff" stroke="#000" stroke-width="2.85"/>
<line x1="1469.7" x2="1479.2" y1="83.75" y2="83.75" stroke="#000" stroke-width="2.5"/>
<text x="1465.9" y="91.25" text-anchor="end" font-size="24.5">-0,150</text>
<line x1="1469.7" x2="1479.2" y1="201.3" y2="201.3" stroke="#000" stroke-width="2.5"/>
<text x="1465.9" y="208.8" text-anchor="end" font-size="24.5">-0,175</text>
<line x1="1469.7" x2="1479.2" y1="318.9" y2="318.9" stroke="#000" stroke-width="2.5"/>
<text x="1465.9" y="326.4" text-anchor="end" font-size="24.5">-0,200</text>
<line x1="1469.7" x2="1479.2" y1="436.5" y2="436.5" stroke="#000" stroke-width="2.5"/>
<text x="1465.9" y="444" text-anchor="end" font-size="24.5">-0,225</text>
<line x1="1473.7" x2="1479.2" y1="142.5" y2="142.5" stroke="#000" stroke-width="2.5"/>
<line x1="1473.7" x2="1479.2" y1="260.1" y2="260.1" stroke="#000" stroke-width="2.5"/>
<line x1="1473.7" x2="1479.2" y1="377.7" y2="377.7" stroke="#000" stroke-width="2.5"/>
<line x1="1479.5" x2="1479.5" y1="460.8" y2="469.6" stroke="#000" stroke-width="2.5"/>
<text x="1479.5" y="493.7" text-anchor="middle" font-size="24.5">20</text>
<line x1="1512.62" x2="1512.62" y1="460.8" y2="465.8" stroke="#000" stroke-width="2.5"/>
<line x1="1545.75" x2="1545.75" y1="460.8" y2="469.6" stroke="#000" stroke-width="2.5"/>
<text x="1545.75" y="493.7" text-anchor="middle" font-size="24.5">25</text>
<line x1="1578.88" x2="1578.88" y1="460.8" y2="465.8" stroke="#000" stroke-width="2.5"/>
<line x1="1612" x2="1612" y1="460.8" y2="469.6" stroke="#000" stroke-width="2.5"/>
<text x="1612" y="493.7" text-anchor="middle" font-size="24.5">30</text>
<line x1="1645.12" x2="1645.12" y1="460.8" y2="465.8" stroke="#000" stroke-width="2.5"/>
<line x1="1678.25" x2="1678.25" y1="460.8" y2="469.6" stroke="#000" stroke-width="2.5"/>
<text x="1678.25" y="493.7" text-anchor="middle" font-size="24.5">35</text>
<line x1="1711.38" x2="1711.38" y1="460.8" y2="465.8" stroke="#000" stroke-width="2.5"/>
<line x1="1744.5" x2="1744.5" y1="460.8" y2="469.6" stroke="#000" stroke-width="2.5"/>
<text x="1744.5" y="493.7" text-anchor="middle" font-size="24.5">40</text>
<line x1="1777.62" x2="1777.62" y1="460.8" y2="465.8" stroke="#000" stroke-width="2.5"/>
<line x1="1810.75" x2="1810.75" y1="460.8" y2="469.6" stroke="#000" stroke-width="2.5"/>
<text x="1810.75" y="493.7" text-anchor="middle" font-size="24.5">45</text>
<line x1="1843.88" x2="1843.88" y1="460.8" y2="465.8" stroke="#000" stroke-width="2.5"/>
<line x1="1877" x2="1877" y1="460.8" y2="469.6" stroke="#000" stroke-width="2.5"/>
<text x="1877" y="493.7" text-anchor="middle" font-size="24.5">50</text>
<line x1="1910.12" x2="1910.12" y1="460.8" y2="465.8" stroke="#000" stroke-width="2.5"/>
<line x1="1943.25" x2="1943.25" y1="460.8" y2="469.6" stroke="#000" stroke-width="2.5"/>
<text x="1943.25" y="493.7" text-anchor="middle" font-size="24.5">55</text>
<line x1="1976.38" x2="1976.38" y1="460.8" y2="465.8" stroke="#000" stroke-width="2.5"/>
<line x1="1480.7" x2="1976" y1="436.5" y2="436.5" stroke="#1818f0" stroke-width="2.1" stroke-dasharray="3.2 3.09"/>
<path d="M1542 81.93 C1543.55 85.43 1548.22 96.13 1551.33 102.92 C1554.43 109.72 1557.54 116.29 1560.65 122.68 C1563.76 129.07 1566.87 135.25 1569.97 141.26 C1573.08 147.27 1576.19 153.09 1579.3 158.75 C1582.41 164.41 1585.52 169.88 1588.62 175.2 C1591.73 180.52 1594.84 185.67 1597.95 190.68 C1601.06 195.69 1604.17 200.53 1607.28 205.24 C1610.38 209.96 1613.49 214.52 1616.6 218.95 C1619.71 223.38 1622.82 227.67 1625.92 231.84 C1629.03 236.01 1632.14 240.05 1635.25 243.97 C1638.36 247.9 1641.47 251.69 1644.58 255.38 C1647.68 259.08 1650.79 262.65 1653.9 266.12 C1657.01 269.6 1660.12 272.96 1663.22 276.23 C1666.33 279.5 1669.44 282.66 1672.55 285.73 C1675.66 288.81 1678.77 291.78 1681.88 294.68 C1684.98 297.57 1688.09 300.37 1691.2 303.09 C1694.31 305.81 1697.42 308.45 1700.53 311.01 C1703.63 313.57 1706.74 316.05 1709.85 318.46 C1712.96 320.87 1716.07 323.2 1719.17 325.47 C1722.28 327.74 1725.39 329.93 1728.5 332.06 C1731.61 334.2 1734.72 336.26 1737.83 338.27 C1740.93 340.27 1744.04 342.22 1747.15 344.11 C1750.26 345.99 1753.37 347.82 1756.47 349.6 C1759.58 351.37 1762.69 353.09 1765.8 354.77 C1768.91 356.44 1772.02 358.06 1775.12 359.63 C1778.23 361.2 1781.34 362.72 1784.45 364.2 C1787.56 365.68 1790.67 367.11 1793.78 368.51 C1796.88 369.9 1799.99 371.25 1803.1 372.56 C1806.21 373.87 1809.32 375.13 1812.42 376.37 C1815.53 377.6 1818.64 378.79 1821.75 379.95 C1824.86 381.11 1827.97 382.23 1831.08 383.33 C1834.18 384.42 1837.29 385.47 1840.4 386.5 C1843.51 387.53 1846.62 388.52 1849.72 389.49 C1852.83 390.45 1855.94 391.39 1859.05 392.29 C1862.16 393.2 1865.27 394.08 1868.38 394.94 C1871.48 395.79 1874.59 396.62 1877.7 397.43 C1880.81 398.23 1883.92 399.01 1887.03 399.76 C1890.13 400.52 1893.24 401.25 1896.35 401.97 C1899.46 402.68 1902.57 403.37 1905.67 404.04 C1908.78 404.71 1913.45 405.66 1915 405.99" fill="none" stroke="#ee1c25" stroke-width="1.7" stroke-linejoin="round" />
<path d="M1541.6 74.7 l8.7 8.7 l-8.7 8.7 l-8.7 -8.7 Z" fill="#000"/>
<path d="M1658 258.3 l8.7 8.7 l-8.7 8.7 l-8.7 -8.7 Z" fill="#000"/>
<path d="M1798.6 363.6 l8.7 8.7 l-8.7 8.7 l-8.7 -8.7 Z" fill="#000"/>
<path d="M1914.8 393.6 l8.7 8.7 l-8.7 8.7 l-8.7 -8.7 Z" fill="#000"/>
<text transform="translate(1389,280.3) rotate(-90) scale(1,1.08)" text-anchor="middle" font-size="27.4"><tspan font-weight="normal" font-size="31">ε</tspan>, eV</text>
<text x="1728" y="529.2" text-anchor="middle" font-size="28">L, Å</text>
<text x="1493" y="416.4" class="bl" font-size="31.5" textLength="15" lengthAdjust="spacingAndGlyphs">ε</text><text x="1508" y="427.4" class="bl" font-size="19">0</text>
<text x="1352.6" y="39.4" class="pl">(c)</text>
</g>
</svg>
</body>
</html>
